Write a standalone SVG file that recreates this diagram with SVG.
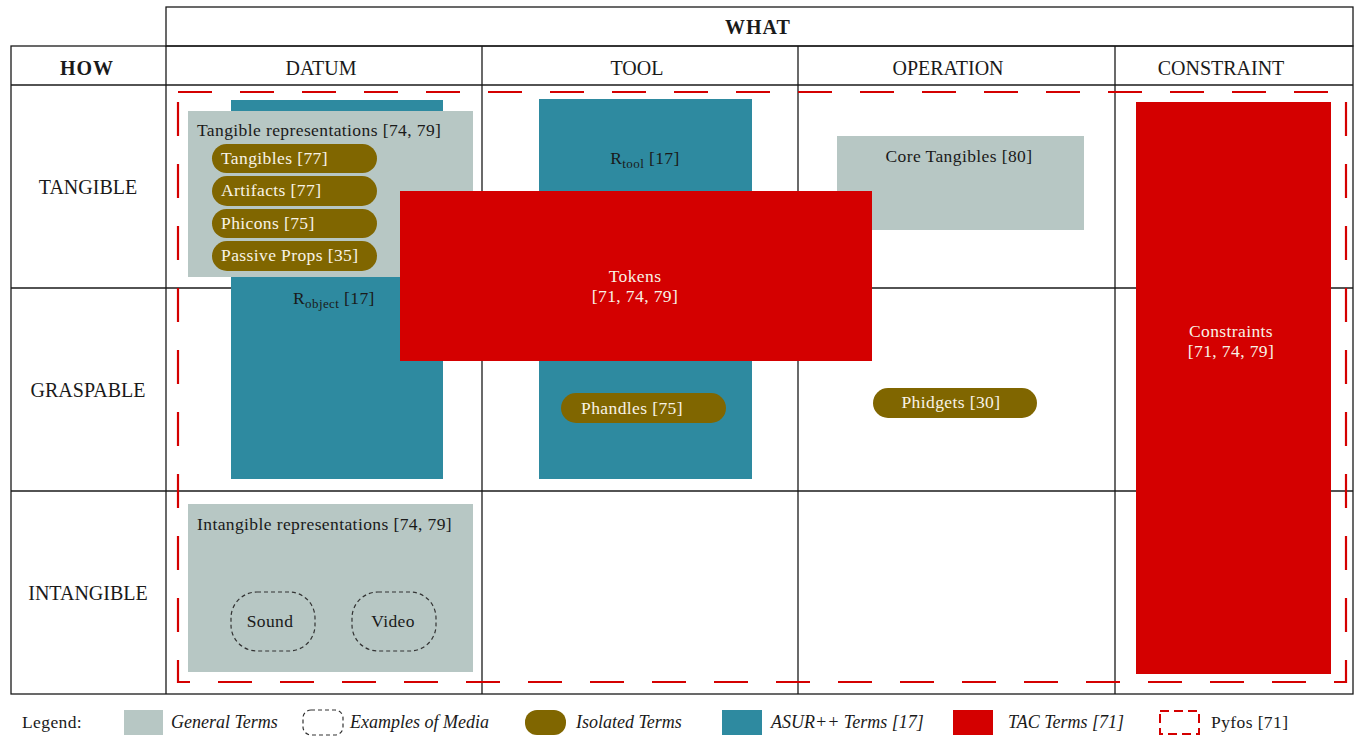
<svg xmlns="http://www.w3.org/2000/svg" width="1357" height="738" viewBox="0 0 1357 738">
<style>
text{font-family:"Liberation Serif","DejaVu Serif",serif;fill:#1a1a1a}
.hd{font-size:20px}
.b{font-weight:bold;letter-spacing:1px}
.t{font-size:17.5px;letter-spacing:0.4px}
.w{fill:#f8f3e6}
.it{font-style:italic;font-size:18px}
.grid{fill:none;stroke:#1a1a1a;stroke-width:1.3}
.gen{fill:#b7c7c4}
.asur{fill:#2e8aa0}
.iso{fill:#806600}
.tac{fill:#d40000}
.media{fill:none;stroke:#333;stroke-width:1.2;stroke-dasharray:4 3}
.pyfos{fill:none;stroke:#d40000;stroke-width:2.2;stroke-dasharray:34 28}
</style>
<g id="grid">
<rect class="grid" x="166" y="7" width="1187" height="39"/>
<rect class="grid" x="11" y="46" width="1342" height="648"/>
<line class="grid" x1="11" y1="85" x2="1353" y2="85"/>
<line class="grid" x1="11" y1="288" x2="1353" y2="288"/>
<line class="grid" x1="11" y1="491" x2="1353" y2="491"/>
<line class="grid" x1="166" y1="46" x2="166" y2="694"/>
<line class="grid" x1="482" y1="46" x2="482" y2="694"/>
<line class="grid" x1="798" y1="46" x2="798" y2="694"/>
<line class="grid" x1="1115" y1="46" x2="1115" y2="694"/>
<text class="hd b" x="758" y="34" text-anchor="middle">WHAT</text>
<text class="hd b" x="87" y="75" text-anchor="middle">HOW</text>
<text class="hd" x="321" y="75" text-anchor="middle">DATUM</text>
<text class="hd" x="637" y="75" text-anchor="middle">TOOL</text>
<text class="hd" x="948" y="75" text-anchor="middle">OPERATION</text>
<text class="hd" x="1221" y="75" text-anchor="middle">CONSTRAINT</text>
<text class="hd" x="88" y="194" text-anchor="middle">TANGIBLE</text>
<text class="hd" x="88" y="397" text-anchor="middle">GRASPABLE</text>
<text class="hd" x="88" y="600" text-anchor="middle">INTANGIBLE</text>
</g>
<g id="robject">
<rect class="asur" x="231" y="100" width="212" height="379"/>
<text class="t" x="293" y="304">R<tspan font-size="13" dy="4">object</tspan><tspan dy="-4"> [17]</tspan></text>
</g>
<g id="tangible-representations">
<rect class="gen" x="188" y="111" width="285" height="166"/>
<text class="t" x="197" y="136">Tangible representations [74, 79]</text>
</g>
<g id="tangibles"><rect class="iso" x="212" y="144" width="165" height="29" rx="14.5"/><text class="t w" x="221" y="164">Tangibles [77]</text></g>
<g id="artifacts"><rect class="iso" x="212" y="176" width="165" height="30" rx="15"/><text class="t w" x="221" y="196">Artifacts [77]</text></g>
<g id="phicons"><rect class="iso" x="212" y="209" width="165" height="29" rx="14.5"/><text class="t w" x="221" y="229">Phicons [75]</text></g>
<g id="passive-props"><rect class="iso" x="212" y="241" width="165" height="30" rx="15"/><text class="t w" x="221" y="261">Passive Props [35]</text></g>
<g id="rtool">
<rect class="asur" x="539" y="99" width="213" height="380"/>
<text class="t" x="645" y="164" text-anchor="middle">R<tspan font-size="13" dy="4">tool</tspan><tspan dy="-4"> [17]</tspan></text>
</g>
<g id="core-tangibles">
<rect class="gen" x="837" y="136" width="247" height="94"/>
<text class="t" x="959" y="162" text-anchor="middle">Core Tangibles [80]</text>
</g>
<g id="tokens">
<rect class="tac" x="400" y="191" width="472" height="170"/>
<text class="t w" x="635" y="282" text-anchor="middle">Tokens</text>
<text class="t w" x="635" y="302" text-anchor="middle">[71, 74, 79]</text>
</g>
<g id="phandles"><rect class="iso" x="561" y="393" width="165" height="30" rx="15"/><text class="t w" x="632" y="414" text-anchor="middle">Phandles [75]</text></g>
<g id="phidgets"><rect class="iso" x="873" y="388" width="164" height="30" rx="15"/><text class="t w" x="951" y="408" text-anchor="middle">Phidgets [30]</text></g>
<g id="constraints">
<rect class="tac" x="1136" y="102" width="195" height="572"/>
<text class="t w" x="1231" y="337" text-anchor="middle">Constraints</text>
<text class="t w" x="1231" y="357" text-anchor="middle">[71, 74, 79]</text>
</g>
<g id="intangible-representations">
<rect class="gen" x="188" y="504" width="285" height="168"/>
<text class="t" x="197" y="530">Intangible representations [74, 79]</text>
</g>
<g id="sound"><rect class="media" x="231" y="592" width="84" height="59" rx="26"/><text class="t" x="270" y="627" text-anchor="middle">Sound</text></g>
<g id="video"><rect class="media" x="352" y="592" width="84" height="59" rx="26"/><text class="t" x="393" y="627" text-anchor="middle">Video</text></g>
<g id="pyfos"><rect class="pyfos" x="178" y="92" width="1168" height="590"/></g>
<g id="legend">
<text class="t" x="22" y="728">Legend:</text>
<rect class="gen" x="124" y="710" width="39" height="25"/>
<text class="it" x="171" y="728">General Terms</text>
<rect class="media" x="303" y="710" width="40" height="25" rx="8"/>
<text class="it" x="350" y="728">Examples of Media</text>
<rect class="iso" x="525" y="710" width="41" height="25" rx="12"/>
<text class="it" x="576" y="728">Isolated Terms</text>
<rect class="asur" x="722" y="710" width="40" height="25"/>
<text class="it" x="771" y="728">ASUR++ Terms [17]</text>
<rect class="tac" x="953" y="710" width="40" height="25"/>
<text class="it" x="1008" y="728">TAC Terms [71]</text>
<rect fill="none" stroke="#d40000" stroke-width="2" stroke-dasharray="9 5" x="1160" y="711" width="39" height="23"/>
<text class="t" x="1211" y="728">Pyfos [71]</text>
</g>
</svg>
